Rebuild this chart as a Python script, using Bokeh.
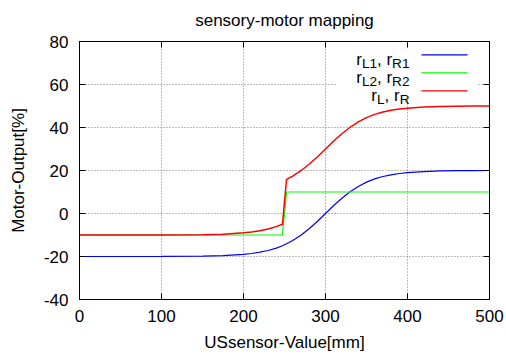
from bokeh.plotting import figure
from bokeh.models import (Range1d, FixedTicker, LinearAxis, Label, BoxAnnotation)
from bokeh.embed import file_html
from bokeh.resources import INLINE

# ---------------- data ----------------
us_mm = [0, 50, 100, 150, 175, 200, 210, 220, 230, 240, 247.5, 252.5,
         260, 270, 280, 290, 300, 310, 320, 330, 340, 350, 360, 370,
         380, 390, 400, 420, 440, 460, 480, 500]
r_1 = [-20.0, -20.0, -19.98, -19.85, -19.6, -19.0, -18.6, -18.0, -17.2, -16.1,
       -15.0, -14.1, -12.6, -10.1, -7.1, -3.7, 0.0, 3.7, 7.1, 10.1, 12.6,
       14.6, 16.1, 17.2, 18.0, 18.6, 19.0, 19.5, 19.8, 19.9, 19.95, 20.0]
r_2 = [-10, -10, -10, -10, -10, -10, -10, -10, -10, -10, -10,
       10, 10, 10, 10, 10, 10, 10, 10, 10, 10, 10, 10, 10, 10, 10,
       10, 10, 10, 10, 10, 10]
r_out = [-10.0, -10.0, -9.98, -9.85, -9.6, -9.0, -8.6, -8.0, -7.2, -6.1, -5.0,
         15.9, 17.4, 19.9, 22.9, 26.3, 30.0, 33.7, 37.1, 40.1, 42.6, 44.6,
         46.1, 47.2, 48.0, 48.6, 49.0, 49.5, 49.8, 49.9, 49.95, 50.0]

x_ticks = [0, 100, 200, 300, 400, 500]
x_tick_labels = ["0", "100", "200", "300", "400", "500"]
y_ticks = [-40, -20, 0, 20, 40, 60, 80]
y_tick_labels = ["-40", "-20", "0", "20", "40", "60", "80"]

legend_entries = [[("r", "L1"), ("r", "R1")],
                  [("r", "L2"), ("r", "R2")],
                  [("r", "L"), ("r", "R")]]
series_colors = ["#0000ff", "#00ff00", "#ff0000"]
series_widths = [1.2, 1.2, 1.5]

title_text = "sensory-motor mapping"
x_label = "USsensor-Value[mm]"
y_label = "Motor-Output[%]"

# ---------------- layout constants ----------------
FONT = "Liberation Sans"
FS = 17.0
SUB = 13.6
W_FIG, H_FIG = 506, 358
FL, FR, FT, FB = 79, 489, 40, 299   # frame edges in pixels
XMIN, XMAX, YMIN, YMAX = 0, 500, -40, 80


def dx(px):
    return XMIN + (px - FL) / (FR - FL) * (XMAX - XMIN)


def dy(py):
    return YMAX - (py - FT) / (FB - FT) * (YMAX - YMIN)


p = figure(width=W_FIG, height=H_FIG, output_backend="svg", toolbar_location=None,
           x_range=Range1d(XMIN, XMAX), y_range=Range1d(YMIN, YMAX),
           min_border_left=FL, min_border_right=W_FIG - FR, min_border_top=FT,
           min_border_bottom=H_FIG - FB, title=title_text)

p.background_fill_color = "white"
p.border_fill_color = "white"
p.outline_line_color = "black"
p.outline_line_width = 1
p.outline_line_alpha = 1

p.title.align = "center"
p.title.vertical_align = "top"
p.title.text_font = FONT
p.title.text_font_size = f"{FS}px"
p.title.text_font_style = "normal"
p.title.text_color = "black"
p.title.standoff = 20

for ax, ticks, labels in ((p.xaxis[0], x_ticks, x_tick_labels),
                          (p.yaxis[0], y_ticks, y_tick_labels)):
    ax.ticker = FixedTicker(ticks=ticks)
    ax.major_label_overrides = {t: l for t, l in zip(ticks, labels)}
    ax.major_label_text_font = FONT
    ax.major_label_text_font_size = f"{FS}px"
    ax.major_label_text_color = "black"
    ax.axis_label_text_font = FONT
    ax.axis_label_text_font_size = f"{FS}px"
    ax.axis_label_text_font_style = "normal"
    ax.axis_label_text_color = "black"
    ax.major_tick_in = 6
    ax.major_tick_out = 0
    ax.minor_tick_line_color = None
    ax.axis_line_color = "black"
    ax.major_tick_line_color = "black"

p.xaxis.axis_label = x_label
p.yaxis.axis_label = y_label
p.xaxis.major_label_standoff = 10
p.xaxis.axis_label_standoff = 8
p.yaxis.major_label_standoff = 11
p.yaxis.axis_label_standoff = 13

# mirrored ticks on right and top (no labels)
for ticks, place in ((y_ticks, "right"), (x_ticks, "above")):
    m = LinearAxis(ticker=FixedTicker(ticks=ticks),
                   major_label_text_font_size="0px", major_label_text_color=None,
                   major_label_standoff=0,
                   major_tick_in=6, major_tick_out=0, minor_tick_line_color=None,
                   axis_line_color="black", major_tick_line_color="black")
    p.add_layout(m, place)

p.grid.grid_line_color = "#7a7a7a"
p.grid.grid_line_dash = "1 2"
p.grid.grid_line_width = 1

# key background (drawn above grid, below curves and key samples)
ROW = 18
KEY_TOP = 44
p.add_layout(BoxAnnotation(left=dx(336), right=dx(478), top=dy(45.5),
                           bottom=dy(97.5), fill_color="white", fill_alpha=1,
                           line_alpha=0, level="underlay"))

for ys, c, w in zip((r_1, r_2, r_out), series_colors, series_widths):
    p.line(us_mm, ys, line_color=c, line_width=w)

# ---------------- key (gnuplot style: text right-aligned, sample at right) ----
key_y = [dy(KEY_TOP + ROW / 2 + ROW * i + 0.5) for i in range(len(legend_entries))]
p.segment(x0=[dx(421)] * len(key_y), y0=key_y, x1=[dx(467)] * len(key_y),
          y1=key_y, line_color=series_colors, line_width=1.2)

W = {"r": 333, "L": 556, "R": 722, "1": 556, "2": 556, ",": 278, " ": 278}


def tw(s, size):
    return sum(W[ch] for ch in s) / 1000.0 * size


for i, entry in enumerate(legend_entries):
    yc = KEY_TOP + ROW / 2 + ROW * i
    pieces = []
    for j, (main, sub) in enumerate(entry):
        if j > 0:
            pieces.append((",", "main"))
            pieces.append((" ", "space"))
        pieces.append((main, "main"))
        pieces.append((sub, "sub"))
    sizes = {"main": FS, "space": FS, "sub": SUB}
    total = sum(tw(t, sizes[k]) for t, k in pieces)
    xpx = 409 - total
    base = yc + 5
    for t, k in pieces:
        size = sizes[k]
        if k != "space":
            ypx = base if k == "main" else base + 4
            p.add_layout(Label(x=dx(xpx), y=dy(ypx), text=t, text_font=FONT,
                               text_font_size=f"{size}px",
                               text_baseline="alphabetic", text_align="left",
                               text_color="black"))
        xpx += tw(t, size)

open("out.html", "w").write(file_html(p, INLINE))
